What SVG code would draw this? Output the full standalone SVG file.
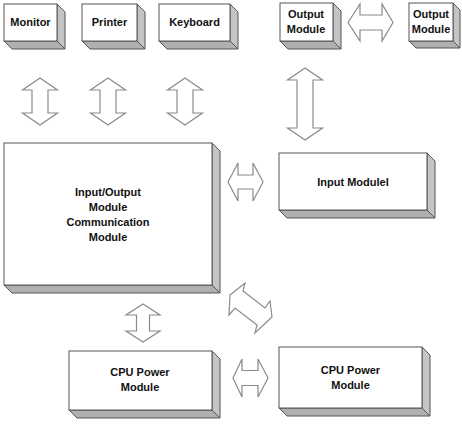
<svg xmlns="http://www.w3.org/2000/svg" width="462" height="425" viewBox="0 0 462 425">
<style>
.front{fill:#ffffff;stroke:#555555;stroke-width:1}
.side{fill:#c4c4c4;stroke:#555555;stroke-width:1}
.bottom{fill:#b0b0b0;stroke:#555555;stroke-width:1}
.arrow{fill:#ffffff;stroke:#8a8a8a;stroke-width:1.2;stroke-linejoin:miter}
text{font-family:"Liberation Sans",Arial,sans-serif;font-size:11px;font-weight:bold;fill:#111111;text-anchor:middle}
</style>
<rect width="462" height="425" fill="#ffffff"/>
<g id="monitor">
<polygon class="side" points="57,4 65,12 65,49 57,41"/>
<polygon class="bottom" points="4,41 57,41 65,49 12,49"/>
<rect class="front" x="4" y="4" width="53" height="37"/>
<text x="30.5" y="26">Monitor</text>
</g>
<g id="printer">
<polygon class="side" points="137,4 145,12 145,49 137,41"/>
<polygon class="bottom" points="82,41 137,41 145,49 90,49"/>
<rect class="front" x="82" y="4" width="55" height="37"/>
<text x="109.5" y="26">Printer</text>
</g>
<g id="keyboard">
<polygon class="side" points="230,4 238,12 238,49 230,41"/>
<polygon class="bottom" points="159,41 230,41 238,49 167,49"/>
<rect class="front" x="159" y="4" width="71" height="37"/>
<text x="194.5" y="26">Keyboard</text>
</g>
<g id="output1">
<polygon class="side" points="333,3 341,11 341,49 333,41"/>
<polygon class="bottom" points="280,41 333,41 341,49 288,49"/>
<rect class="front" x="280" y="3" width="53" height="38"/>
<text x="306" y="18">Output</text>
<text x="306" y="33">Module</text>
</g>
<g id="output2">
<polygon class="side" points="453,3 460,10 460,48 453,41"/>
<polygon class="bottom" points="409,41 453,41 460,48 416,48"/>
<rect class="front" x="409" y="3" width="44" height="38"/>
<text x="431" y="18">Output</text>
<text x="431" y="33">Module</text>
</g>
<g id="io-comm">
<polygon class="side" points="212,143 220,151 220,293 212,285"/>
<polygon class="bottom" points="4,285 212,285 220,293 12,293"/>
<rect class="front" x="4" y="143" width="208" height="142"/>
<text x="108" y="196">Input/Output</text>
<text x="108" y="211">Module</text>
<text x="108" y="226">Communication</text>
<text x="108" y="241">Module</text>
</g>
<g id="input">
<polygon class="side" points="427,153 435,161 435,218 427,210"/>
<polygon class="bottom" points="279,210 427,210 435,218 287,218"/>
<rect class="front" x="279" y="153" width="148" height="57"/>
<text x="353" y="186">Input Modulel</text>
</g>
<g id="cpu-left">
<polygon class="side" points="212,351 220,359 220,418 212,410"/>
<polygon class="bottom" points="69,410 212,410 220,418 77,418"/>
<rect class="front" x="69" y="351" width="143" height="59"/>
<text x="140" y="376">CPU Power</text>
<text x="140" y="391">Module</text>
</g>
<g id="cpu-right">
<polygon class="side" points="422,347 430,355 430,416 422,408"/>
<polygon class="bottom" points="279,408 422,408 430,416 287,416"/>
<rect class="front" x="279" y="347" width="143" height="61"/>
<text x="350.5" y="374">CPU Power</text>
<text x="350.5" y="389">Module</text>
</g>
<g id="connectors">
<polygon class="arrow" points="40,78 57.5,90 48,90 48,113 57.5,113 40,125 22.5,113 32,113 32,90 22.5,90"/>
<polygon class="arrow" points="108,78 125.5,90 116,90 116,113 125.5,113 108,125 90.5,113 100,113 100,90 90.5,90"/>
<polygon class="arrow" points="185,78 202.5,90 193,90 193,113 202.5,113 185,125 167.5,113 177,113 177,90 167.5,90"/>
<polygon class="arrow" points="305,68 322.5,80 313,80 313,128 322.5,128 305,140 287.5,128 297,128 297,80 287.5,80"/>
<polygon class="arrow" points="348,22.5 360,4 360,15 382,15 382,4 393,22.5 382,41 382,30 360,30 360,41"/>
<polygon class="arrow" points="228,182 238,163 238,175 253,175 253,163 263,182 253,201 253,189 238,189 238,201"/>
<polygon class="arrow" points="230,295 245,283 243,291 265,308 270,301 272,317 255,333 257,325 235,308 229,315"/>
<polygon class="arrow" points="143,304 160,315 149.5,315 149.5,331 160,331 143,342 126,331 136.5,331 136.5,315 126,315"/>
<polygon class="arrow" points="233,378 242,359 242,370.5 258,370.5 258,359 268,378 258,397 258,385.5 242,385.5 242,397"/>
</g>
</svg>
